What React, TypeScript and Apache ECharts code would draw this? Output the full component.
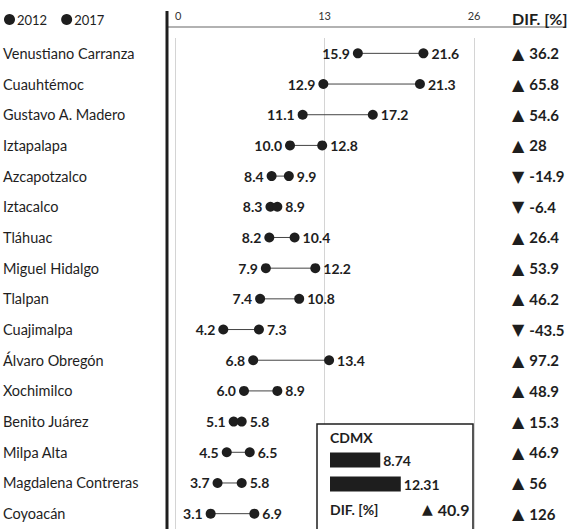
import React, { useEffect, useRef } from "react";
import * as echarts from "echarts";

const categories = [
  "Venustiano Carranza",
  "Cuauhtémoc",
  "Gustavo A. Madero",
  "Iztapalapa",
  "Azcapotzalco",
  "Iztacalco",
  "Tláhuac",
  "Miguel Hidalgo",
  "Tlalpan",
  "Cuajimalpa",
  "Álvaro Obregón",
  "Xochimilco",
  "Benito Juárez",
  "Milpa Alta",
  "Magdalena Contreras",
  "Coyoacán",
];
const values2012 = [15.9, 12.9, 11.1, 10.0, 8.4, 8.3, 8.2, 7.9, 7.4, 4.2, 6.8, 6.0, 5.1, 4.5, 3.7, 3.1];
const values2017 = [21.6, 21.3, 17.2, 12.8, 9.9, 8.9, 10.4, 12.2, 10.8, 7.3, 13.4, 8.9, 5.8, 6.5, 5.8, 6.9];
const difValues = [36.2, 65.8, 54.6, 28, -14.9, -6.4, 26.4, 53.9, 46.2, -43.5, 97.2, 48.9, 15.3, 46.9, 56, 126];
const seriesNames = ["2012", "2017"];
const cdmxYears = ["2012", "2017"];
const cdmxValues = [8.74, 12.31];
const cdmxDif = 40.9;

const INK = "#1e1e1e";
const FONT = "Lato";

export default function App() {
  const ref = useRef<HTMLDivElement>(null);
  useEffect(() => {
    if (!ref.current) return;
    const chart = echarts.init(ref.current, null, { renderer: "svg" });
    const tri = (v: number) => (v >= 0 ? "▲" : "▼");
    chart.setOption({
      animation: false,
      backgroundColor: "#ffffff",
      textStyle: { fontFamily: FONT, color: INK },
      legend: {
        data: seriesNames,
        left: -1,
        top: 8,
        itemWidth: 11,
        itemHeight: 11,
        itemGap: 14,
        icon: "circle",
        textStyle: { fontFamily: FONT, fontSize: 13, color: INK, padding: [0, 0, 0, -3] },
      },
      grid: [
        { left: 170, width: 304, top: 38, height: 495, containLabel: false },
        { left: 330, width: 115, top: 448, height: 48, containLabel: false },
      ],
      xAxis: [
        {
          type: "value",
          gridIndex: 0,
          position: "top",
          min: 0,
          max: 26,
          interval: 13,
          axisLine: { show: false },
          axisTick: { show: false },
          axisLabel: {
            margin: 17,
            fontSize: 11,
            color: "#333",
            fontFamily: FONT,
            alignMinLabel: "left",
          },
          splitLine: { show: true, lineStyle: { color: "#d4d4d4", width: 1 } },
        },
        {
          type: "value",
          gridIndex: 1,
          min: 0,
          max: 20,
          show: false,
        },
      ],
      yAxis: [
        {
          type: "category",
          gridIndex: 0,
          data: categories,
          inverse: true,
          axisLine: { show: false },
          axisTick: { show: false },
          splitLine: { show: false },
          axisLabel: {
            align: "left",
            margin: 172,
            fontSize: 14.5,
            color: INK,
            fontFamily: FONT,
          },
        },
        {
          type: "category",
          gridIndex: 0,
          position: "right",
          data: categories,
          inverse: true,
          axisLine: { show: false },
          axisTick: { show: false },
          splitLine: { show: false },
          axisLabel: {
            align: "left",
            margin: 38,
            formatter: (_v: string, i: number) => `{t|${tri(difValues[i])}}{v|${difValues[i]}}`,
            rich: {
              t: { fontFamily: "DejaVu Sans", fontSize: 16, color: INK, padding: [0, 5, 0, 0] },
              v: { fontFamily: FONT, fontSize: 15, fontWeight: "bold", color: INK },
            },
          },
        },
        {
          type: "category",
          gridIndex: 1,
          data: cdmxYears,
          inverse: true,
          show: false,
        },
      ],
      series: [
        {
          type: "custom",
          name: "link",
          xAxisIndex: 0,
          yAxisIndex: 0,
          encode: { x: [0, 1], y: 2 },
          data: categories.map((_c, i) => [values2012[i], values2017[i], i]),
          renderItem: (_p: any, api: any) => {
            const a = api.coord([api.value(0), api.value(2)]);
            const b = api.coord([api.value(1), api.value(2)]);
            return {
              type: "line",
              shape: { x1: a[0], y1: a[1], x2: b[0], y2: b[1] },
              style: { stroke: "#444", lineWidth: 1 },
            };
          },
          z: 1,
        },
        {
          type: "scatter",
          name: seriesNames[0],
          xAxisIndex: 0,
          yAxisIndex: 0,
          symbolSize: 10,
          itemStyle: { color: INK, opacity: 1 },
          data: values2012.map((v, i) => [v, i]),
          label: {
            show: true,
            position: "left",
            distance: 3,
            formatter: (p: any) => p.value[0].toFixed(1),
            fontSize: 14,
            fontWeight: "bold",
            color: INK,
            fontFamily: FONT,
          },
          z: 3,
        },
        {
          type: "scatter",
          name: seriesNames[1],
          xAxisIndex: 0,
          yAxisIndex: 0,
          symbolSize: 10,
          itemStyle: { color: INK, opacity: 1 },
          data: values2017.map((v, i) => [v, i]),
          label: {
            show: true,
            position: "right",
            distance: 3,
            formatter: (p: any) => p.value[0].toFixed(1),
            fontSize: 14,
            fontWeight: "bold",
            color: INK,
            fontFamily: FONT,
          },
          z: 3,
        },
        {
          type: "bar",
          name: "CDMX",
          xAxisIndex: 1,
          yAxisIndex: 2,
          barWidth: 15,
          data: cdmxValues,
          itemStyle: { color: INK },
          label: {
            show: true,
            position: "right",
            distance: 3,
            formatter: (p: any) => String(p.value),
            fontSize: 14,
            fontWeight: "bold",
            color: INK,
            fontFamily: FONT,
          },
          z: 20,
        },
      ],
      graphic: [
        {
          type: "line",
          shape: { x1: 167, y1: 27, x2: 566, y2: 27 },
          style: { stroke: "#666", lineWidth: 1.2 },
          z: 5,
        },
        {
          type: "line",
          shape: { x1: 167, y1: 11, x2: 167, y2: 529 },
          style: { stroke: INK, lineWidth: 3 },
          z: 5,
        },
        {
          type: "text",
          x: 512,
          y: 18,
          style: {
            text: "DIF. [%]",
            fontFamily: FONT,
            fontSize: 16,
            fontWeight: "bold",
            fill: INK,
            verticalAlign: "middle",
          },
          z: 5,
        },
        {
          type: "rect",
          shape: { x: 317, y: 424, width: 156, height: 115 },
          style: { fill: "#ffffff", stroke: INK, lineWidth: 1.5 },
          z: 10,
        },
        {
          type: "text",
          x: 330,
          y: 437,
          style: {
            text: "CDMX",
            fontFamily: FONT,
            fontSize: 14,
            fontWeight: "bold",
            fill: INK,
            verticalAlign: "middle",
          },
          z: 21,
        },
        {
          type: "text",
          x: 330,
          y: 509,
          style: {
            text: "DIF. [%]",
            fontFamily: FONT,
            fontSize: 14,
            fontWeight: "bold",
            fill: INK,
            verticalAlign: "middle",
          },
          z: 21,
        },
        {
          type: "text",
          x: 422,
          y: 509,
          style: {
            text: `{t|${tri(cdmxDif)}}{v|${cdmxDif}}`,
            verticalAlign: "middle",
            rich: {
              t: { fontFamily: "DejaVu Sans", fontSize: 14, fill: INK, color: INK, padding: [0, 5, 0, 0] },
              v: { fontFamily: FONT, fontSize: 16, fontWeight: "bold", fill: INK, color: INK },
            },
          },
          z: 21,
        },
      ],
    });
    return () => chart.dispose();
  }, []);
  return (
    <div
      ref={ref}
      style={{ position: "absolute", left: 0, top: 0, width: 571, height: 529 }}
    />
  );
}
